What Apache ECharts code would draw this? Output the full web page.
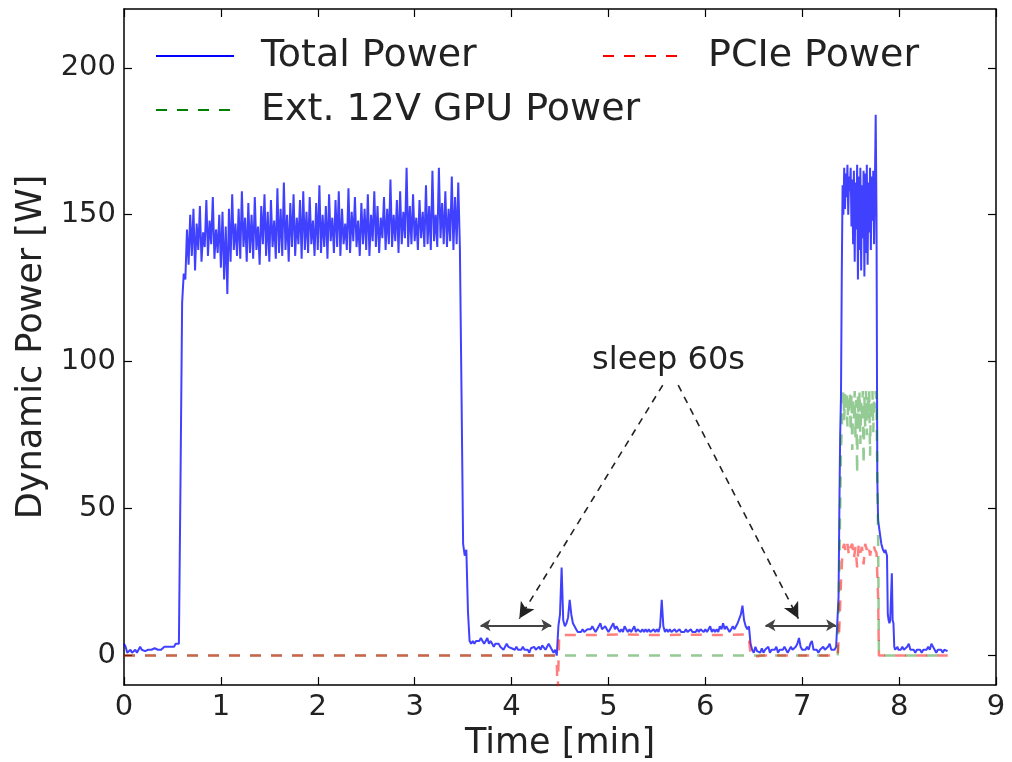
<!DOCTYPE html>
<html>
<head>
<meta charset="utf-8">
<script src="https://cdn.jsdelivr.net/npm/echarts@6/dist/echarts.min.js"></script>
<style>
html,body{margin:0;padding:0;background:#fff;}
#c{width:1012px;height:762px;}
</style>
</head>
<body>
<div id="c"></div>
<script>
// ---- data (time in seconds, power in W) ----
const xTicks = [0,1,2,3,4,5,6,7,8,9];
const yTicks = [0,50,100,150,200];

// Total power, 1 s sampling from t = 0 s to 442 s
const totalStartSec = 0, totalStepSec = 1;
const totalW = [
 4,3,1,1,2,1,1.5,2,1,2, 3,2,2,1.5,2,2,1.5,2,2,2.5, 2,2,2.5,2,2,3,2.5,3,2.5,3, 3,3,4,4,
 4,60,120,130,128,
 145,133,150,136,152,131,147,138,153,134, 144,139,155,136,148,140,156,135,145,137,
 150,132,151,128,146,123,152,134,157,138, 147,136,152,135,158,139,149,134,154,137,
 150,135,156,138,146,133,153,140,157,136, 151,134,155,139,148,135,159,137,152,136,
 161,138,150,134,154,139,157,136,149,140, 155,135,158,138,151,137,156,140,148,136,
 154,138,160,137,150,139,153,135,157,141, 149,137,155,139,158,136,152,140,147,138,
 159,137,151,141,156,139,148,136,154,140, 152,138,157,136,150,141,158,139,153,137,
 149,142,156,138,152,140,162,139,150,141, 155,137,158,140,151,142,166,139,153,140,
 157,141,149,138,155,142,151,139,160,140, 153,138,165,141,150,139,166,142,154,140,
 158,139,152,141,163,138,156,140,161,139,
 90,38,34,36,15,5,
 4,5,4,5,4.5,5,6,5,4,5, 6,4,5,4,3,4,3.5,4,3,3, 2,3,4,3,3,2.5,3,2,3,2,
 1.5,2,3,2,1.5,2,1,2.5,2,3, 2,2.5,3,2,3.5,3,2,3,4,3, 2,1,2,
 0,10,14,30,12,10,11,13,19,14,11,10,
 9,8,8.5,8,9,8,8,9,8.5,9, 10,9,8,9,10,11,9,9,10,9, 8,9,10,11,9,10,9,8,9,8,
 10,9,8,9,8,9,10,8,9,8.5, 8,9,8,9,8,9,8,8.5,9,8, 9,8,10,19,10,8,9,8,9,8,
 8,9,8,8.5,9,8,7.5,8,9,8, 8,9,8,7.5,8,9,8,9,8.5,8, 9,8,9,10,8,9,8,9,8,10,
 9,11,9,10,9,8,9,10,9,10, 11,11,14,17,12,10,9,10,4,2,
 1,3,1.5,2,1,2.5,1,2,1.5,3, 1,2,1.5,2,3,1,2,1.5,2,3, 2,1,2,3,2,2.5,3,4,6,3,
 2,1.5,2,3,2,4,5,2,1.5,2, 1,2,1.5,3,2,1.5,3,4,2,1.5, 2,3,
 3
];

// Total power, 0.5 s sampling from t = 442.5 s to 480 s (second kernel burst)
const peakStartSec = 442.5, peakStepSec = 0.5;
const peakW = [
 20,50,75,88,130,160,150,166,152,164, 156,167,150,163,158,166,146,162,140,165,
 134,161,145,167,128,163,138,166,131,160, 142,165,129,164,137,167,133,161,144,166,
 138,163,148,165,140,160,184,150,60,46, 44,42,40,38,37,36,36,35,36,35,
 34,14,12,11,12,12,28,12,11,3, 2,2.5,2,3,2,2.5
];

// Total power, 1 s sampling from t = 481 s to 510 s
const tailStartSec = 481, tailStepSec = 1;
const tailW = [
 2,3,2,1.5,3,4,2,1.5,2,1, 2,1.5,2,1,2,1.5,2,3,2,4, 3,2,1,2,1.5,2,1,2,2,1.5
];

// PCIe power: [seconds, W]
const pcieSec = [0,267,268,268.5,269.5,270,290,310,330,350,370,386,387,388,389,395,442,443,444,
 445,446,447,448,449,450,451,452,453,454,455,456,457,458,459,460,461,462,463,464,465,466,467,467.5,510];
const pcieW   = [0,0,-1,-15,7,7.5,7,7.2,7,7.1,7,7.2,6,0.5,-0.5,0,0,10,25,
 36,38,35,38,34,37,38,33,37,30,38,35,37,31,38,36,38,34,37,38,36,35,20,0,0];

// Ext. 12V GPU power: [seconds, W]
const extSec = [0,442,443,444,
 445,445.5,446,446.5,447,447.5,448,448.5,449,449.5,450,450.5,451,451.5,452,452.5,
 453,453.5,454,454.5,455,455.5,456,456.5,457,457.5,458,458.5,459,459.5,460,460.5,
 461,461.5,462,462.5,463,463.5,464,464.5,465,465.5,466,467,467.5,510];
const extW = [0,0,30,70,
 85,90,80,89,84,90,78,88,82,90,76,89,70,88,80,90,
 74,87,62,89,79,90,72,86,80,90,65,88,78,90,75,88,
 82,90,68,87,80,90,76,88,84,90,85,40,0,0];

// ---- build series ----
function uniform(start, step, vals){ return vals.map((v,i)=>[(start+i*step)/60, v]); }
function paired(secs, vals){ return secs.map((s,i)=>[s/60, vals[i]]); }
const totalData = uniform(totalStartSec,totalStepSec,totalW)
  .concat(uniform(peakStartSec,peakStepSec,peakW))
  .concat(uniform(tailStartSec,tailStepSec,tailW));
const pcieData = paired(pcieSec, pcieW);
const extData = paired(extSec, extW);

const FONT = 'DejaVu Sans';
const chart = echarts.init(document.getElementById('c'), null, {renderer:'canvas'});

const axisLineStyle = {color:'#000', width:1.5};
const tickInside = {show:true, inside:true, length:8, lineStyle:{color:'#000', width:1.2}};
const legendCommon = {orient:'vertical', padding:0, itemGap:14, itemWidth:78, itemHeight:14,
  itemStyle:{opacity:0}, lineStyle:{opacity:1, width:2},
  textStyle:{fontFamily:FONT, fontSize:38, color:'#222', lineHeight:40, padding:[0,0,0,22]}};

chart.setOption({
  animation:false,
  backgroundColor:'#fff',
  grid:{left:124, right:16, top:9, bottom:77, outerBoundsMode:'none', containLabel:false},
  legend:[
    Object.assign({left:155, top:36, data:['Total Power','Ext. 12V GPU Power']}, legendCommon),
    Object.assign({left:602, top:36, data:['PCIe Power']}, legendCommon)
  ],
  xAxis:[
    {type:'value', min:0, max:9, interval:1, position:'bottom',
     name:'Time [min]', nameLocation:'middle', nameGap:38,
     nameTextStyle:{fontFamily:FONT, fontSize:35, color:'#222'},
     axisLine:{show:true, onZero:false, lineStyle:axisLineStyle},
     axisTick:tickInside,
     axisLabel:{fontFamily:FONT, fontSize:29, color:'#222', margin:8},
     splitLine:{show:false}},
    {type:'value', min:0, max:9, interval:1, position:'top',
     axisLine:{show:true, onZero:false, lineStyle:axisLineStyle},
     axisTick:tickInside, axisLabel:{show:false}, splitLine:{show:false}}
  ],
  yAxis:[
    {type:'value', min:-10, max:220, position:'left',
     name:'Dynamic Power [W]', nameLocation:'middle', nameGap:72, nameRotate:90,
     nameTextStyle:{fontFamily:FONT, fontSize:35, color:'#222'},
     axisLine:{show:true, onZero:false, lineStyle:axisLineStyle},
     axisTick:Object.assign({customValues:yTicks}, tickInside),
     axisLabel:{customValues:yTicks, fontFamily:FONT, fontSize:29, color:'#222', margin:8},
     splitLine:{show:false}},
    {type:'value', min:-10, max:220, position:'right',
     axisLine:{show:true, onZero:false, lineStyle:axisLineStyle},
     axisTick:Object.assign({customValues:yTicks}, tickInside),
     axisLabel:{show:false}, splitLine:{show:false}}
  ],
  series:[
    {name:'Total Power', type:'line', data:totalData, xAxisIndex:0, yAxisIndex:0,
     symbol:'none', showSymbol:false, z:2,
     itemStyle:{color:'#0000ff'},
     lineStyle:{color:'#0000ff', width:2, opacity:0.75},
     markLine:{silent:true, symbolSize:[12,16], label:{show:false},
       lineStyle:{color:'#222', width:1.6, type:[7,6], opacity:1},
       data:[
         [{coord:[5.56,92], symbol:'none'},{coord:[4.08,12.6], symbol:'arrow', symbolSize:[12,16]}],
         [{coord:[5.72,92], symbol:'none'},{coord:[6.96,12.6], symbol:'arrow', symbolSize:[12,16]}],
         [{coord:[3.68,10.3], symbol:'arrow', symbolSize:[9,10], lineStyle:{type:'solid', color:'#444', width:1.8}},
          {coord:[4.41,10.3], symbol:'arrow', symbolSize:[9,10]}],
         [{coord:[6.62,10.3], symbol:'arrow', symbolSize:[9,10], lineStyle:{type:'solid', color:'#444', width:1.8}},
          {coord:[7.35,10.3], symbol:'arrow', symbolSize:[9,10]}]
       ]},
     markPoint:{silent:true, symbol:'circle', symbolSize:0,
       data:[{coord:[5.62,100.5], value:'sleep 60s'}],
       label:{show:true, position:'inside', formatter:'sleep 60s', fontFamily:FONT, fontSize:32, color:'#222'}}
    },
    {name:'Ext. 12V GPU Power', type:'line', data:extData, symbol:'none', showSymbol:false, z:3,
     itemStyle:{color:'#008000'},
     lineStyle:{color:'#008000', width:2.5, type:[11,10], opacity:0.42}},
    {name:'PCIe Power', type:'line', data:pcieData, symbol:'none', showSymbol:false, z:4,
     itemStyle:{color:'#ff0000'},
     lineStyle:{color:'#ff0000', width:2.5, type:[11,10], opacity:0.5}}
  ]
});
</script>
</body>
</html>
